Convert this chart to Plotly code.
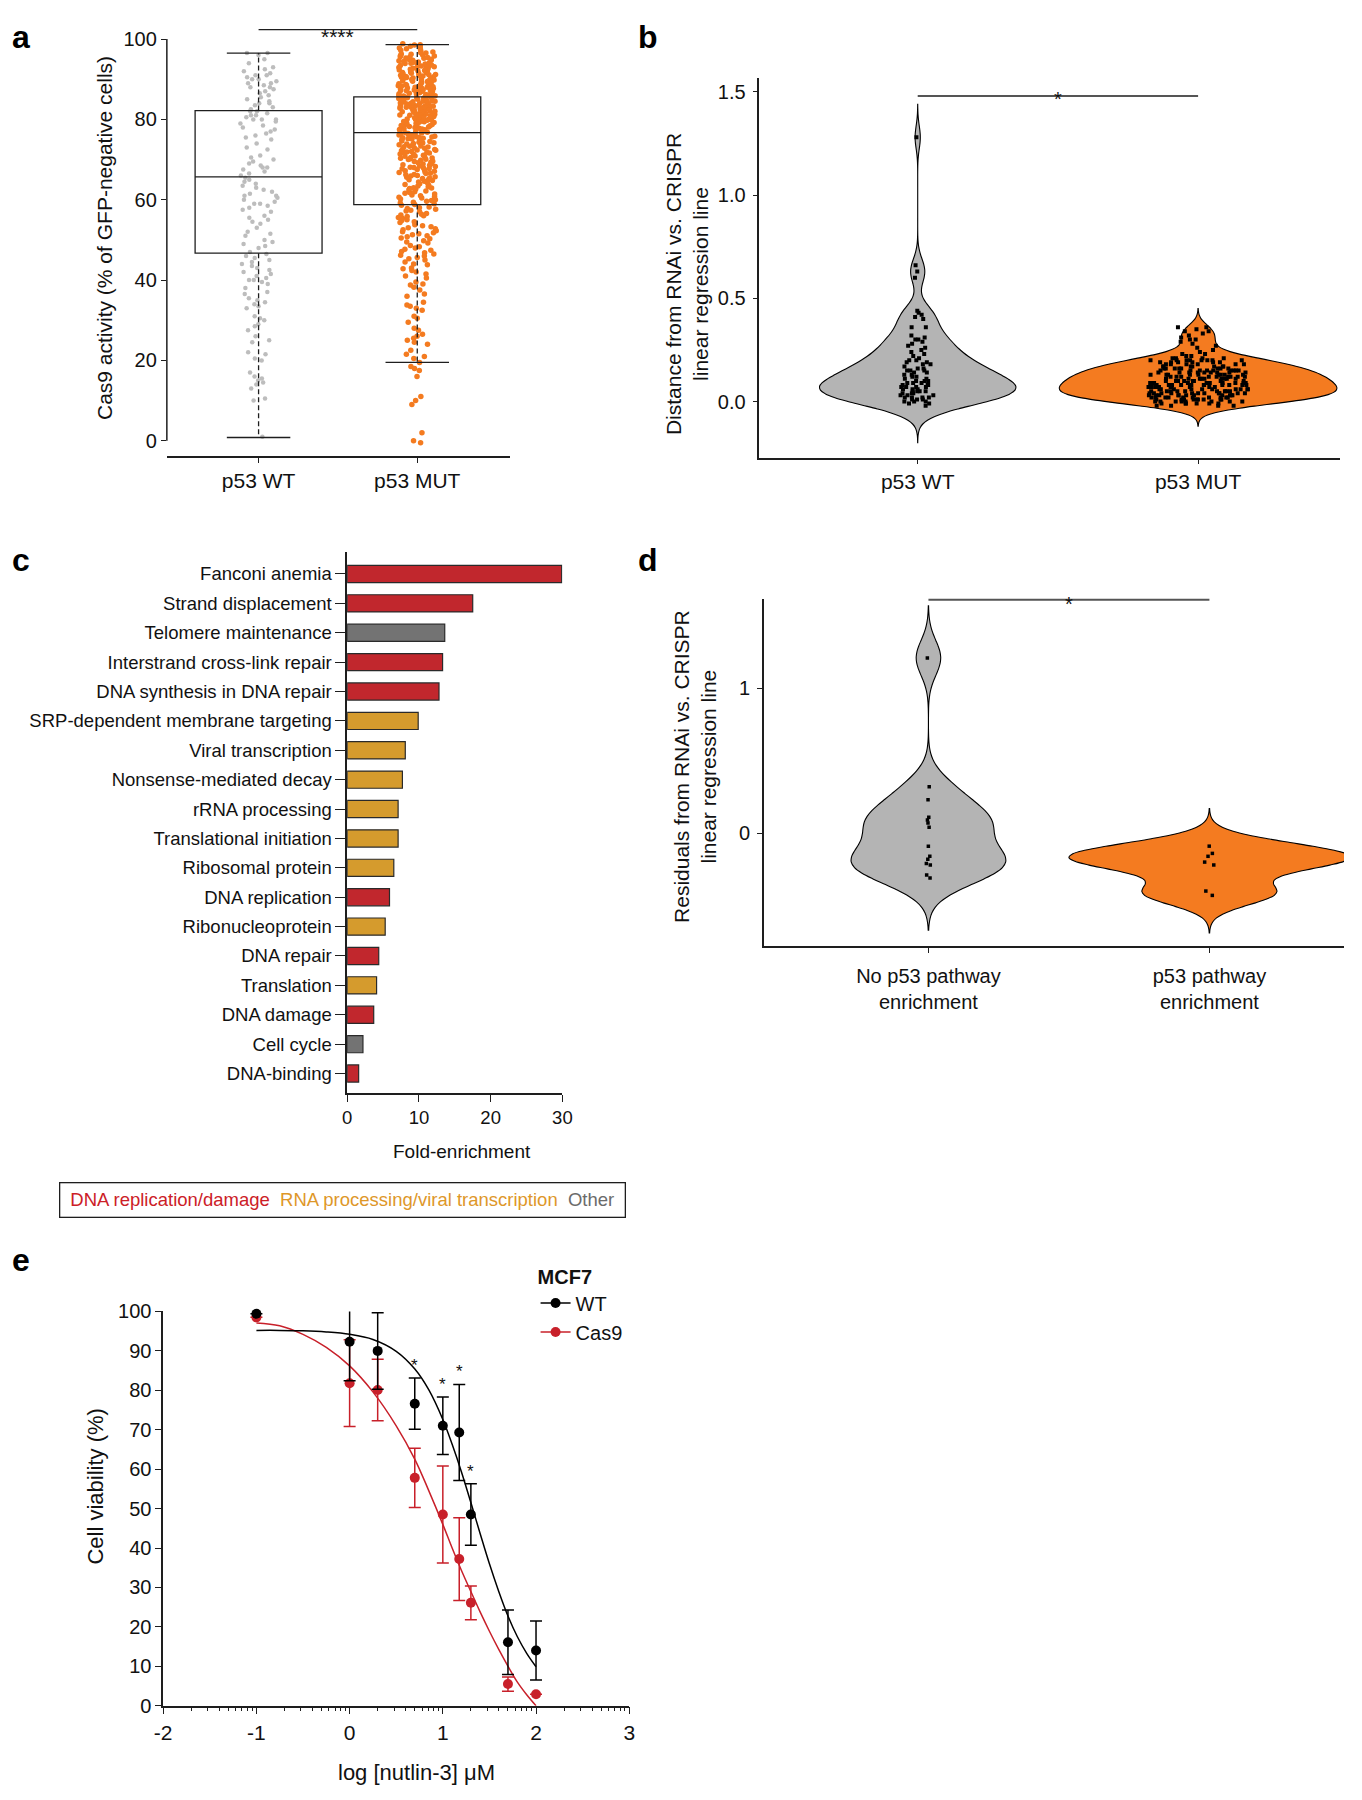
import numpy as np
import plotly.graph_objects as go

# The page keeps the browser's default 8px body margin, so the figure is drawn
# 16px smaller than the window and every reference pixel position is shifted by 8.
PAGE_W, PAGE_H = 1362, 1800
OFF = 8
W, H = PAGE_W - 2 * OFF, PAGE_H - 2 * OFF

FONT = "Arial, Liberation Sans, sans-serif"
INK = "#1e1e1e"
TXT = "#111111"

GREY_PTS = "#bdbdbd"
ORANGE = "#f47b20"
VIOLIN_GREY = "#b4b4b4"
RED = "#c1272d"
GOLD = "#d59b2d"
DARK_GREY = "#737373"
E_RED = "#c8202a"

# ── panel a: Cas9 activity, box + jittered points ──
A_LABELS = ["p53 WT", "p53 MUT"]
A_Q1 = [46.7, 58.8]
A_MEDIAN = [65.7, 76.7]
A_Q3 = [82.2, 85.6]
A_LOW = [0.8, 19.5]
A_HIGH = [96.5, 98.6]
A_WT = [
    96.5, 96.5, 96.0, 95.0, 94.0, 93.0, 92.5, 92.0, 91.5, 91.0, 91.0, 90.5, 90.0, 90.0,
    89.5, 89.0, 89.0, 88.5, 88.0, 88.0, 87.5, 87.0, 86.5, 86.0, 85.5, 85.0,
    84.5, 84.0, 84.0, 83.5, 83.0, 82.5, 82.0, 82.0, 81.5, 81.0, 81.0, 80.5, 80.0, 80.0, 80.0,
    79.5, 79.0, 78.5, 78.0, 77.5, 77.0, 76.5, 76.0, 75.5, 75.0,
    74.0, 73.0, 72.5, 71.0, 70.5, 70.0,
    69.5, 69.0, 68.5, 68.0, 68.0, 67.5, 67.0, 66.5, 66.0, 65.5, 65.0,
    64.5, 64.0, 63.5, 63.0, 62.5, 62.0, 61.5, 61.0, 61.0, 60.5, 60.0,
    59.5, 59.0, 59.0, 58.5, 58.0, 57.5, 57.0, 56.0, 55.5, 55.0,
    54.5, 54.0, 53.0, 52.0, 51.5, 51.0, 50.0,
    49.5, 49.0, 48.5, 48.0, 47.0, 46.5, 46.0, 45.5, 45.0,
    44.5, 44.0, 43.5, 43.0, 42.5, 42.0, 41.5, 41.0, 40.5, 40.0, 40.0,
    39.5, 39.0, 38.0, 37.0, 36.5, 35.5, 35.0,
    34.5, 34.0, 33.5, 33.0, 31.0, 30.5, 30.0,
    29.0, 28.5, 27.5, 26.0, 25.0,
    24.5, 22.0, 21.5, 20.5, 20.0,
    17.0, 16.0, 15.5, 15.0, 14.5, 14.0, 13.0,
    10.5, 10.0, 1.0,
]
A_MUT = [
    98.8, 98.5, 98.2, 98.0, 97.8, 97.5, 97.2, 97.0, 96.8, 96.5, 96.3, 96.0, 95.8, 95.6,
    95.5, 95.3, 95.2, 95.0, 95.0, 98.6, 97.6, 96.6, 95.9, 95.4, 96.2,
    94.9, 94.7, 94.5, 94.3, 94.2, 94.0, 93.8, 93.7, 93.5, 93.3, 93.2, 93.0, 92.9, 92.7,
    92.5, 92.4, 92.2, 92.0, 91.9, 91.7, 91.5, 91.4, 91.2, 91.0, 90.9, 90.7, 90.5, 90.4,
    90.2, 90.0, 94.6, 94.1, 93.6, 93.1, 92.6, 92.1, 91.6, 91.1, 90.6, 90.1, 94.4, 93.9,
    93.4, 92.8, 92.3, 91.8, 91.3, 90.8, 90.3, 94.8,
    89.8, 89.6, 89.5, 89.3, 89.1, 89.0, 88.8, 88.6, 88.5, 88.3, 88.1, 88.0, 87.8, 87.6,
    87.5, 87.3, 87.1, 87.0, 86.8, 86.6, 86.5, 86.3, 86.1, 86.0, 85.8, 85.6, 85.5, 85.3,
    85.1, 85.0, 89.7, 89.2, 88.7, 88.2, 87.7, 87.2, 86.7, 86.2, 85.7, 85.2, 89.4, 88.9,
    88.4, 87.9, 87.4, 86.9, 86.4, 85.9, 85.4, 89.9, 88.4, 87.1, 86.0, 85.4, 88.0,
    84.9, 84.7, 84.5, 84.3, 84.1, 84.0, 83.8, 83.6, 83.4, 83.2, 83.0, 82.8, 82.6, 82.4,
    82.2, 82.0, 81.8, 81.6, 81.4, 81.2, 81.0, 80.8, 80.6, 80.4, 80.2, 80.0, 84.8, 84.4,
    83.9, 83.5, 83.1, 82.7, 82.3, 81.9, 81.5, 81.1, 80.7, 80.3, 84.6, 84.2, 83.7, 83.3,
    82.9, 82.5, 82.1, 81.7, 81.3, 80.9, 80.5, 80.1, 84.5, 83.6, 82.8, 81.9, 81.0, 80.1,
    83.0, 82.2, 81.4, 80.6,
    79.8, 79.5, 79.2, 79.0, 78.8, 78.5, 78.2, 78.0, 77.8, 77.5, 77.2, 77.0, 76.8, 76.5,
    76.2, 76.0, 75.8, 75.5, 75.2, 75.0, 79.6, 79.1, 78.6, 78.1, 77.6, 77.1, 76.6, 76.1,
    75.6, 75.1, 79.9, 79.3, 78.7, 78.3, 77.7, 77.3, 76.7, 76.3, 75.7, 75.3, 79.4, 78.4,
    77.4, 76.4, 75.4,
    74.8, 74.5, 74.2, 74.0, 73.7, 73.4, 73.1, 72.8, 72.5, 72.2, 72.0, 71.7, 71.4, 71.1,
    70.8, 70.5, 70.2, 70.0, 74.6, 74.1, 73.6, 73.2, 72.7, 72.3, 71.8, 71.3, 70.9, 70.4,
    74.3, 73.9, 72.9, 72.4, 71.6, 70.7, 70.3, 73.3, 71.9, 70.1,
    69.8, 69.5, 69.2, 68.9, 68.6, 68.3, 68.0, 67.7, 67.4, 67.1, 66.8, 66.5, 66.2, 65.9,
    65.6, 65.3, 65.0, 69.6, 69.0, 68.4, 67.8, 67.2, 66.6, 66.0, 65.4, 69.3, 68.7, 68.1,
    67.5, 66.9, 66.3, 65.7, 65.1, 67.9,
    64.8, 64.4, 64.0, 63.6, 63.2, 62.8, 62.4, 62.0, 61.6, 61.2, 60.8, 60.4, 60.0, 64.6,
    63.8, 63.0, 62.2, 61.4, 60.6, 64.2, 62.6, 61.0, 63.4, 61.8, 60.2, 62.9,
    59.8, 59.4, 59.0, 58.6, 58.2, 57.8, 57.4, 57.0, 56.6, 56.2, 55.8, 55.4, 55.0, 59.6,
    58.8, 58.0, 57.2, 56.4, 55.6, 59.2, 57.6, 56.0,
    54.8, 54.3, 53.8, 53.3, 52.8, 52.3, 51.8, 51.3, 50.8, 50.3, 54.5, 53.5, 52.5, 51.5,
    50.5, 53.0, 51.0, 52.0,
    49.8, 49.2, 48.6, 48.0, 47.4, 46.8, 46.2, 45.6, 45.0, 49.5, 48.3, 47.1, 46.5, 45.3,
    47.7, 46.0,
    44.5, 43.8, 43.0, 42.4, 42.0, 41.5, 41.0, 40.5, 44.0, 42.8,
    39.5, 39.0, 38.2, 37.5, 36.5, 36.0, 38.8,
    34.5, 33.5, 33.0, 32.5, 31.0, 30.5, 33.8,
    29.5, 28.0, 27.5, 26.5, 26.0, 25.5, 25.0,
    24.5, 24.0, 22.5, 21.5, 21.0, 20.5,
    19.5, 18.5, 18.0, 17.5, 16.0,
    11.0, 10.0, 9.0, 2.0, 0.0, -0.5,
]

# ── panel b: distance from regression line ──
B_LABELS = ["p53 WT", "p53 MUT"]
B_WT = [
    1.28, 0.66, 0.63, 0.60, 0.44, 0.43, 0.42, 0.41, 0.40, 0.36, 0.36,
    0.32, 0.31, 0.30, 0.30, 0.29, 0.28, 0.27, 0.26, 0.25, 0.24, 0.23, 0.22,
    0.21, 0.20, 0.20, 0.19, 0.19, 0.18, 0.18,
    0.17, 0.16, 0.16, 0.15, 0.15, 0.15, 0.14, 0.14, 0.13, 0.13,
    0.12, 0.12, 0.11, 0.11, 0.10, 0.10, 0.10, 0.09, 0.09, 0.09,
    0.08, 0.08, 0.08, 0.07, 0.07, 0.07, 0.07, 0.06, 0.06, 0.06,
    0.05, 0.05, 0.05, 0.05, 0.04, 0.04, 0.04, 0.03, 0.03, 0.03,
    0.02, 0.02, 0.02, 0.02, 0.01, 0.01, 0.01, 0.00, 0.00, 0.00,
    -0.01, -0.01, -0.02,
]
B_MUT = [
    0.36, 0.36, 0.35, 0.34, 0.34, 0.33, 0.32, 0.31, 0.30, 0.30, 0.29, 0.28, 0.27, 0.26,
    0.25, 0.24, 0.23, 0.23,
    0.22, 0.22, 0.21, 0.21, 0.21, 0.21, 0.20, 0.20, 0.20, 0.20, 0.20, 0.20, 0.20, 0.20,
    0.19, 0.19, 0.19, 0.19, 0.19, 0.19,
    0.18, 0.18, 0.18, 0.18, 0.18, 0.18, 0.17, 0.17, 0.17, 0.17, 0.17, 0.17, 0.17,
    0.16, 0.16, 0.16, 0.16, 0.16, 0.16, 0.16, 0.16, 0.15, 0.15, 0.15, 0.15, 0.15, 0.15,
    0.15, 0.15, 0.15,
    0.14, 0.14, 0.14, 0.14, 0.14, 0.14, 0.14, 0.14, 0.14, 0.13, 0.13, 0.13, 0.13, 0.13,
    0.13, 0.13, 0.13, 0.13, 0.12, 0.12, 0.12, 0.12, 0.12, 0.12, 0.12, 0.12, 0.12,
    0.11, 0.11, 0.11, 0.11, 0.11, 0.11, 0.11, 0.11, 0.11, 0.10, 0.10, 0.10, 0.10, 0.10,
    0.10, 0.10, 0.10, 0.10,
    0.09, 0.09, 0.09, 0.09, 0.09, 0.09, 0.09, 0.09, 0.09, 0.09, 0.08, 0.08, 0.08, 0.08,
    0.08, 0.08, 0.08, 0.08, 0.08, 0.08, 0.08, 0.07, 0.07, 0.07, 0.07, 0.07, 0.07, 0.07,
    0.07, 0.07, 0.07, 0.06, 0.06, 0.06, 0.06, 0.06, 0.06, 0.06, 0.06, 0.06, 0.06,
    0.05, 0.05, 0.05, 0.05, 0.05, 0.05, 0.05, 0.05, 0.05,
    0.04, 0.04, 0.04, 0.04, 0.04, 0.04, 0.04, 0.04, 0.04, 0.04, 0.04, 0.03, 0.03, 0.03,
    0.03, 0.03, 0.03, 0.03, 0.03, 0.03, 0.03, 0.03, 0.02, 0.02, 0.02, 0.02, 0.02, 0.02,
    0.02, 0.02, 0.02, 0.02, 0.01, 0.01, 0.01, 0.01, 0.01, 0.01, 0.01, 0.01, 0.01, 0.01,
    0.00, 0.00, 0.00, 0.00, 0.00, 0.00, 0.00, 0.00,
    -0.01, -0.01, -0.01, -0.01, -0.01, -0.01, -0.02, -0.02, -0.02, -0.02,
]

# ── panel c: functional enrichment ──
C_TERMS = [
    "Fanconi anemia", "Strand displacement", "Telomere maintenance",
    "Interstrand cross-link repair", "DNA synthesis in DNA repair",
    "SRP-dependent membrane targeting", "Viral transcription", "Nonsense-mediated decay",
    "rRNA processing", "Translational initiation", "Ribosomal protein", "DNA replication",
    "Ribonucleoprotein", "DNA repair", "Translation", "DNA damage", "Cell cycle",
    "DNA-binding",
]
C_FOLD = [29.9, 17.5, 13.6, 13.3, 12.8, 9.9, 8.1, 7.7, 7.1, 7.1, 6.5, 5.9, 5.3, 4.4, 4.1, 3.7, 2.2, 1.6]
C_CLASS = ["dna", "dna", "other", "dna", "dna", "rna", "rna", "rna", "rna", "rna",
           "rna", "dna", "rna", "dna", "rna", "dna", "other", "dna"]
C_CLASS_COLOR = {"dna": RED, "rna": GOLD, "other": DARK_GREY}
C_LEGEND = [("DNA replication/damage", "#cc2027"), ("RNA processing/viral transcription", "#de9729"),
            ("Other", "#6b6b6b")]

# ── panel d: residuals by p53 pathway enrichment ──
D_LABELS = ["No p53 pathway<br>enrichment", "p53 pathway<br>enrichment"]
D_NO = [1.21, 0.32, 0.23, 0.11, 0.09, 0.07, 0.04, -0.09, -0.16, -0.18, -0.21, -0.22, -0.29, -0.31]
D_YES = [-0.09, -0.14, -0.16, -0.20, -0.22, -0.40, -0.43]

# ── panel e: nutlin-3 dose response ──
E_DOSE_UM = [0.1, 1, 2, 5, 10, 15, 20, 50, 100]
E_WT = [99.4, 92.3, 90.0, 76.6, 71.0, 69.3, 48.5, 16.1, 14.0]
E_WT_SD = [None, 9.9, 9.7, 6.5, 7.3, 12.2, 7.8, 8.2, 7.5]
E_CAS9 = [98.5, 81.8, 80.1, 57.8, 48.5, 37.2, 26.1, 5.5, 2.9]
E_CAS9_SD = [None, 11.0, 7.8, 7.5, 12.3, 10.5, 4.3, 1.8, None]
E_SIG = [False, False, False, True, True, True, True, False, False]
E_FIT_X = [-1, -0.75, -0.5, -0.25, 0, 0.25, 0.5, 0.7, 0.85, 1.0, 1.1, 1.2, 1.3, 1.4,
           1.5, 1.6, 1.7, 1.8, 1.9, 2.0]
E_WT_FIT = [95.2, 95.2, 95.1, 94.8, 94.2, 92.9, 89.9, 85.4, 80.1, 72.6, 66.3, 59.3, 51.6,
            43.7, 36.0, 29.0, 22.7, 17.5, 13.3, 9.9]
E_CAS9_FIT = [97.1, 96.4, 94.2, 90.9, 86.2, 79.6, 71.0, 62.5, 54.5, 46.0, 40.0, 34.3, 29.0,
              23.8, 18.9, 14.3, 10.0, 6.0, 2.8, 0.0]
E_TICKS = [-2, -1, 0, 1, 2, 3]
E_TICKTEXT = ["-2", "-1", "0", "1", "2", "3"]
E_MINOR_MULT = [2, 3, 4, 5, 6, 7, 8, 9]


def px_x(v):
    return (v - OFF) / W


def px_y(v):
    return 1 - (v - OFF) / H


def axis(**kw):
    d = dict(showgrid=False, zeroline=False, showline=True, linecolor=INK, linewidth=1.5,
             ticks="outside", tickcolor=INK, tickwidth=1.2, ticklen=5,
             tickfont=dict(family=FONT, size=20, color=TXT))
    d.update(kw)
    return d


fig = go.Figure()

# ── a ──
for i, vals in enumerate([A_WT, A_MUT]):
    fig.add_trace(go.Box(
        y=vals, x0=i, width=0.8, boxpoints="all", jitter=0.3, pointpos=0,
        marker=dict(color=[GREY_PTS, ORANGE][i], size=[4.5, 5.5][i]),
        line=dict(color="rgba(0,0,0,0)"), fillcolor="rgba(0,0,0,0)",
        xaxis="x", yaxis="y", showlegend=False, hoverinfo="y",
    ))

wx, wy, cx, cy = [], [], [], []
for i in range(len(A_LABELS)):
    wx += [i, i, None, i, i, None]
    wy += [A_Q3[i], A_HIGH[i], None, A_Q1[i], A_LOW[i], None]
    cx += [i - 0.2, i + 0.2, None, i - 0.2, i + 0.2, None]
    cy += [A_HIGH[i], A_HIGH[i], None, A_LOW[i], A_LOW[i], None]
fig.add_trace(go.Scatter(x=wx, y=wy, mode="lines", line=dict(color=INK, width=1.3, dash="5px,3px"),
                         xaxis="x", yaxis="y", showlegend=False, hoverinfo="skip"))
fig.add_trace(go.Scatter(x=cx, y=cy, mode="lines", line=dict(color=INK, width=1.3),
                         xaxis="x", yaxis="y", showlegend=False, hoverinfo="skip"))
fig.add_trace(go.Box(
    x=[0, 1], q1=A_Q1, median=A_MEDIAN, q3=A_Q3, lowerfence=A_Q1, upperfence=A_Q3,
    width=0.8, whiskerwidth=0, boxpoints=False, fillcolor="rgba(0,0,0,0)",
    line=dict(color=INK, width=1.3), xaxis="x", yaxis="y", showlegend=False,
))


# ── b and d: violins with dots ──
def violin(vals, pos, color, width, bw, span, jitter, xa, ya, msize):
    return go.Violin(
        y=vals, x0=pos, width=width, bandwidth=bw, spanmode="manual", span=span,
        scalemode="width", fillcolor=color, line=dict(color="black", width=1.1),
        points="all", pointpos=0, jitter=jitter,
        marker=dict(symbol="square", size=msize, color="black", line=dict(width=0)),
        box_visible=False, meanline_visible=False, showlegend=False,
        xaxis=xa, yaxis=ya, hoverinfo="y",
    )


fig.add_trace(violin(B_WT, 0, VIOLIN_GREY, 0.70, 0.055, [-0.20, 1.44], 0.22, "x2", "y2", 4))
fig.add_trace(violin(B_MUT, 1, ORANGE, 0.99, 0.033, [-0.12, 0.45], 0.36, "x2", "y2", 4))
fig.add_trace(violin(D_NO, 0, VIOLIN_GREY, 0.55, 0.12, [-0.67, 1.57], 0.04, "x4", "y4", 3.5))
fig.add_trace(violin(D_YES, 1, ORANGE, 1.0, 0.08, [-0.69, 0.17], 0.04, "x4", "y4", 3.5))

# ── c: horizontal bars ──
fig.add_trace(go.Bar(
    x=C_FOLD, y=C_TERMS, orientation="h", width=0.585,
    marker=dict(color=[C_CLASS_COLOR[c] for c in C_CLASS], line=dict(color="#2a2a2a", width=1.2)),
    xaxis="x3", yaxis="y3", showlegend=False,
))

# ── e: dose response ──
e_x = np.log10(E_DOSE_UM)
fig.add_trace(go.Scatter(x=E_FIT_X, y=E_CAS9_FIT, mode="lines",
                         line=dict(color=E_RED, width=1.5, shape="spline"),
                         xaxis="x5", yaxis="y5", showlegend=False, hoverinfo="skip"))
fig.add_trace(go.Scatter(x=E_FIT_X, y=E_WT_FIT, mode="lines",
                         line=dict(color="black", width=1.5, shape="spline"),
                         xaxis="x5", yaxis="y5", showlegend=False, hoverinfo="skip"))
fig.add_trace(go.Scatter(
    x=e_x, y=E_CAS9, mode="markers", marker=dict(color=E_RED, size=10),
    error_y=dict(type="data", array=E_CAS9_SD, color=E_RED, thickness=1.5, width=6),
    cliponaxis=False, xaxis="x5", yaxis="y5", showlegend=False,
))
fig.add_trace(go.Scatter(
    x=e_x, y=E_WT, mode="markers", marker=dict(color="black", size=10),
    error_y=dict(type="data", array=E_WT_SD, color="black", thickness=1.5, width=6),
    cliponaxis=False, xaxis="x5", yaxis="y5", showlegend=False,
))
for name, col in [("WT", "black"), ("Cas9", E_RED)]:
    fig.add_trace(go.Scatter(
        x=[None], y=[None], mode="lines+markers", name=name,
        line=dict(color=col, width=1.5), marker=dict(color=col, size=10),
        xaxis="x5", yaxis="y5",
    ))

e_minor = [d + np.log10(m) for d in range(-2, 3) for m in E_MINOR_MULT]

# ── annotations ──
ann = []
for letter, x, y in [("a", 12, 26), ("b", 648, 26), ("c", 12, 556), ("d", 648, 556), ("e", 12, 1264)]:
    ann.append(dict(text=f"<b>{letter}</b>", x=px_x(x), y=px_y(y), xref="paper", yref="paper",
                    showarrow=False, xanchor="center", yanchor="middle",
                    font=dict(family=FONT, size=32, color="black")))

titles = [
    ("Cas9 activity (% of GFP-negative cells)", 97, 230, -90, 21),
    ("Distance from RNAi vs. CRISPR<br>linear regression line", 687, 276, -90, 21),
    ("Fold-enrichment", 459, 1155, 0, 19),
    ("Residuals from RNAi vs. CRISPR<br>linear regression line", 695, 765, -90, 21),
    ("Cell viability (%)", 88, 1494, -90, 22),
    ("log [nutlin-3] μM", 413, 1783, 0, 22),
]
for text, x, y, ang, size in titles:
    ann.append(dict(text=text, x=px_x(x), y=px_y(y), xref="paper", yref="paper", showarrow=False,
                    textangle=ang, xanchor="center", yanchor="middle",
                    font=dict(family=FONT, size=size, color=TXT)))

# significance markers
ann.append(dict(text="****", x=0.5, y=px_y(12), xref="x", yref="paper", showarrow=False,
                font=dict(family=FONT, size=21, color=TXT)))
ann.append(dict(text="*", x=0.5, y=px_y(76), xref="x2", yref="paper", showarrow=False,
                font=dict(family=FONT, size=20, color=TXT)))
ann.append(dict(text="*", x=0.5, y=px_y(587), xref="x4", yref="paper", showarrow=False,
                font=dict(family=FONT, size=20, color=TXT)))
for i, sig in enumerate(E_SIG):
    if sig:
        ann.append(dict(text="*", x=e_x[i], y=E_WT[i] + E_WT_SD[i], xref="x5", yref="y5",
                        showarrow=False, yanchor="bottom", yshift=1,
                        font=dict(family=FONT, size=17, color=TXT)))

# panel c colour key
key = "\u00a0\u00a0".join(f'<span style="color:{c}">{t}</span>' for t, c in C_LEGEND)
ann.append(dict(text=key, x=px_x(338), y=px_y(1203.5), xref="paper", yref="paper", showarrow=False,
                xanchor="center", yanchor="middle", width=556, height=25, borderpad=4,
                bordercolor=INK, borderwidth=1.3, font=dict(family=FONT, size=18.5)))

shapes = [
    # panel a y-axis line only spans 0-100
    dict(type="line", xref="x domain", yref="y", x0=0, x1=0, y0=0, y1=100,
         line=dict(color=INK, width=1.5)),
    dict(type="line", xref="x", yref="paper", x0=0, x1=1, y0=px_y(18.7), y1=px_y(18.7),
         line=dict(color=INK, width=1.2)),
    dict(type="line", xref="x2", yref="paper", x0=0, x1=1, y0=px_y(86), y1=px_y(86),
         line=dict(color="#555555", width=2)),
    dict(type="line", xref="x4", yref="paper", x0=0, x1=1, y0=px_y(596), y1=px_y(596),
         line=dict(color="#555555", width=2)),
]

fig.update_layout(
    width=W, height=H, margin=dict(l=0, r=0, t=0, b=0),
    paper_bgcolor="white", plot_bgcolor="white",
    font=dict(family=FONT, color=TXT),
    xaxis=axis(domain=[px_x(160), px_x(508)], range=[-0.578, 1.584], anchor="y",
               tickvals=[0, 1], ticktext=A_LABELS, tickfont=dict(family=FONT, size=21, color=TXT)),
    yaxis=axis(domain=[px_y(450.7), px_y(8)], range=[-3.86, 104.99], anchor="x", showline=False,
               tickvals=[0, 20, 40, 60, 80, 100]),
    xaxis2=axis(domain=[px_x(761), px_x(1350)], range=[-0.5647, 1.5063], anchor="y2",
                tickvals=[0, 1], ticktext=B_LABELS, tickfont=dict(family=FONT, size=21, color=TXT)),
    yaxis2=axis(domain=[px_y(452), px_y(68)], range=[-0.2713, 1.566], anchor="x2",
                tickvals=[0, 0.5, 1, 1.5], tickformat=".1f", ticklabelstandoff=3),
    xaxis3=axis(domain=[px_x(342.9), px_x(561.2)], range=[0, 30], anchor="y3",
                tickvals=[0, 10, 20, 30], ticklen=7, tickfont=dict(family=FONT, size=18.5, color=TXT)),
    yaxis3=axis(domain=[px_y(1095.8), px_y(548)], type="category", categoryarray=C_TERMS,
                range=[17.676, -0.736], anchor="x3", ticklen=10,
                tickfont=dict(family=FONT, size=18.5, color=TXT)),
    xaxis4=axis(domain=[px_x(765.6), px_x(1354)], range=[-0.5856, 1.479], anchor="y4",
                tickvals=[0, 1], ticktext=D_LABELS, ticklabelstandoff=6),
    yaxis4=axis(domain=[px_y(946.7), px_y(595)], range=[-0.7804, 1.6187], anchor="x4",
                tickvals=[0, 1], ticklabelstandoff=3),
    xaxis5=axis(domain=[px_x(156.3), px_x(629)], range=[-2, 3], anchor="y5",
                tickvals=E_TICKS, ticktext=E_TICKTEXT, ticklen=7,
                tickfont=dict(family=FONT, size=21, color=TXT),
                minor=dict(tickmode="array", tickvals=e_minor, ticklen=4, tickcolor=INK,
                           ticks="outside", showgrid=False)),
    yaxis5=axis(domain=[px_y(1715.8), px_y(1316.6)], range=[0, 100], anchor="x5",
                tickvals=list(range(0, 101, 10)), ticklen=6),
    legend=dict(x=px_x(534), y=px_y(1262), xanchor="left", yanchor="top",
                title=dict(text="<b>MCF7</b>", font=dict(family=FONT, size=20, color=TXT)),
                font=dict(family=FONT, size=20, color=TXT), bgcolor="rgba(0,0,0,0)",
                itemwidth=30, tracegroupgap=0),
    annotations=ann,
    shapes=shapes,
)

fig.write_html("out.html", config={"displayModeBar": False})
